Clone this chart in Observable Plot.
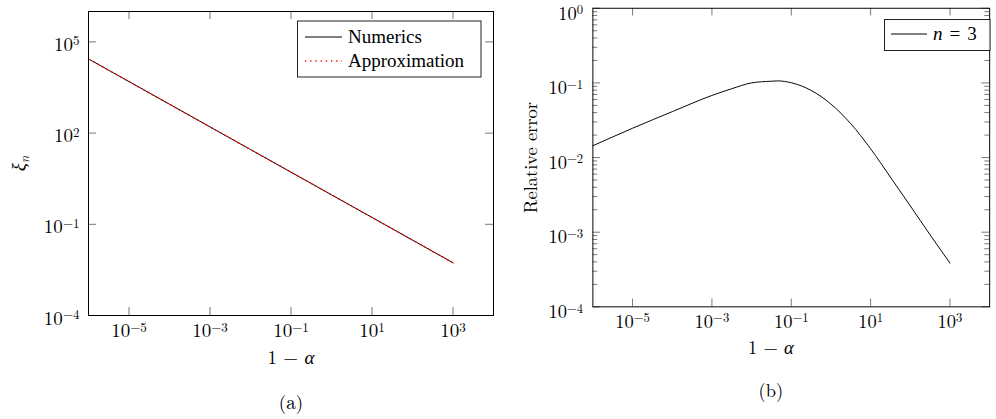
<!DOCTYPE html>
<html>
<head>
<meta charset="utf-8">
<script src="https://cdn.jsdelivr.net/npm/d3@7"></script>
<script src="https://cdn.jsdelivr.net/npm/@observablehq/plot@0.6"></script>
<style>
  body { margin: 0; background: #fff; }
  #root { position: relative; width: 996px; height: 419px; overflow: hidden; background: #fff;
          font-family: 'Latin Modern Roman', 'CMU Serif', 'Liberation Serif', serif; }
  .panel { position: absolute; top: 0; }
  #legends { position: absolute; left: 0; top: 0; pointer-events: none;
             font-family: 'Liberation Serif', serif; font-size: 19px; }
</style>
</head>
<body>
<div id="root">
  <div id="pa" class="panel" style="left:0px"></div>
  <div id="pb" class="panel" style="left:500px"></div>
  <svg id="legends" width="996" height="419">
    <rect x="297.5" y="21" width="183.5" height="56" fill="#fff" stroke="#222" stroke-width="1"></rect>
    <line x1="305" x2="342" y1="37" y2="37" stroke="#000" stroke-width="1"></line>
    <text x="348" y="42.5">Numerics</text>
    <line x1="305" x2="342" y1="61" y2="61" stroke="#f00" stroke-width="1.3" stroke-dasharray="1.3 3.9"></line>
    <text x="348" y="66.5">Approximation</text>
    <rect x="884.5" y="19.5" width="105.5" height="31" fill="#fff" stroke="#222" stroke-width="1"></rect>
    <line x1="891" x2="927" y1="34" y2="34" stroke="#000" stroke-width="1"></line>
    <text x="933" y="39.5"><tspan font-style="italic">n</tspan><tspan dx="7">=</tspan><tspan dx="7">3</tspan></text>
  </svg>
</div>
<script>
// ---------- data ----------
// Panel (a): xi_n versus 1 - alpha
const oneMinusAlpha = [1e-6, 1e-5, 1e-4, 1e-3, 1e-2, 1e-1, 1, 10, 100, 1000];
const xiNumerics    = [27500, 4955, 891, 160, 28.8, 5.19, 0.933, 0.168, 0.0302, 0.00543];
const xiApprox      = [27500, 4955, 891, 160, 28.8, 5.19, 0.933, 0.168, 0.0302, 0.00543];

// Panel (b): relative error, n = 3
const errX = [1e-6, 1e-5, 1e-4, 1e-3, 0.00316, 0.01, 0.0316, 0.0457, 0.1, 0.316, 1, 3.16, 10, 31.6, 100, 316, 1000];
const errY = [0.0144, 0.0247, 0.0412, 0.0679, 0.0836, 0.100, 0.1054, 0.1064, 0.1005, 0.0794, 0.052, 0.0284, 0.0131, 0.00545, 0.00225, 0.00092, 0.000385];

// ticks
const xMajor  = [1e-5, 1e-3, 1e-1, 10, 1000];
const yMajorA = [1e-4, 1e-1, 1e2, 1e5];
const yMajorB = [1e-4, 1e-3, 1e-2, 1e-1, 1];
const yMinorB = [1e-4, 1e-3, 1e-2, 1e-1].flatMap(p => [2,3,4,5,6,7,8,9].map(k => k * p));

const tableA = oneMinusAlpha.map((x, i) => ({x, num: xiNumerics[i], app: xiApprox[i]}));
const tableB = errX.map((x, i) => ({x, y: errY[i]}));

const FONT = "'Latin Modern Roman','CMU Serif','Liberation Serif',serif";
const TICK = "#777";
const fmt = d => "10^" + Math.round(Math.log10(d));
const lbl = {text: d => d, fontSize: 19, textAnchor: "middle", lineAnchor: "middle"};

function tickMarks(FW, FH, xs, ys, yMinor) {
  const m = [
    Plot.ruleX(xs, {x: d => d, stroke: TICK, insetTop: FH - 8}),
    Plot.ruleX(xs, {x: d => d, stroke: TICK, insetBottom: FH - 8}),
    Plot.ruleY(ys, {y: d => d, stroke: TICK, insetRight: FW - 8}),
    Plot.ruleY(ys, {y: d => d, stroke: TICK, insetLeft: FW - 8})
  ];
  if (yMinor) {
    m.push(Plot.ruleY(yMinor, {y: d => d, stroke: TICK, insetRight: FW - 5}));
    m.push(Plot.ruleY(yMinor, {y: d => d, stroke: TICK, insetLeft: FW - 5}));
  }
  return m;
}

function texify(svg) {
  svg.querySelectorAll("text").forEach(t => {
    const s = t.textContent;
    const m = /^10\^(-?\d+)$/.exec(s);
    if (m) {
      t.innerHTML = `10<tspan dy="-5.5" font-size="13">${m[1].replace("-", "\u2212")}</tspan>`;
    } else if (s === "1 \u2212 \u03b1") {
      t.innerHTML = `1 \u2212 <tspan font-style="italic">\u03b1</tspan>`;
    } else if (s === "\u03ben") {
      t.innerHTML = `<tspan font-style="italic">\u03be</tspan><tspan font-style="italic" font-size="13" dy="4">n</tspan>`;
    }
  });
}

// ---------- panel (a) ----------
{
  const W = 500, H = 419, mL = 88, mR = 7, mT = 11, mB = 104;
  const FW = W - mL - mR, FH = H - mT - mB;
  const chart = Plot.plot({
    width: W, height: H,
    marginLeft: mL, marginRight: mR, marginTop: mT, marginBottom: mB,
    style: {fontFamily: FONT, fontSize: "19px", background: "transparent", overflow: "visible"},
    x: {type: "log", domain: [1e-6, 1e4], axis: null},
    y: {type: "log", domain: [1e-4, 1e6], axis: null},
    marks: [
      Plot.line(tableA, {x: "x", y: "num", stroke: "#000", strokeWidth: 1}),
      Plot.line(tableA, {x: "x", y: "app", stroke: "#f00", strokeWidth: 1.3, strokeDasharray: "1.3 3.9"}),
      ...tickMarks(FW, FH, xMajor, yMajorA),
      Plot.frame({stroke: "#000", strokeWidth: 1}),
      Plot.axisX(xMajor, {anchor: "bottom", tickSize: 0, tickPadding: 8, tickFormat: fmt, fontSize: 19, label: null}),
      Plot.axisY(yMajorA, {anchor: "left", tickSize: 0, tickPadding: 9, dy: 3, tickFormat: fmt, fontSize: 19, label: null}),
      Plot.text(["1 \u2212 \u03b1"], {...lbl, frameAnchor: "bottom", dy: 42}),
      Plot.text(["(a)"], {...lbl, frameAnchor: "bottom", dy: 87}),
      Plot.text(["\u03ben"], {...lbl, frameAnchor: "left", dx: -70, rotate: -90})
    ]
  });
  texify(chart);
  document.getElementById("pa").appendChild(chart);
}

// ---------- panel (b) ----------
{
  const W = 510, H = 419, mL = 95, mR = 7, mT = 8, mB = 104;
  const FW = W - mL - mR, FH = H - mT - mB;
  const chart = Plot.plot({
    width: W, height: H,
    marginLeft: mL, marginRight: mR, marginTop: mT, marginBottom: mB,
    style: {fontFamily: FONT, fontSize: "19px", background: "transparent", overflow: "visible"},
    x: {type: "log", domain: [1e-6, 1e4], axis: null},
    y: {type: "log", domain: [1e-4, 1], axis: null},
    marks: [
      Plot.line(tableB, {x: "x", y: "y", stroke: "#000", strokeWidth: 1, curve: "monotone-x"}),
      ...tickMarks(FW, FH, xMajor, yMajorB, yMinorB),
      Plot.frame({stroke: "#000", strokeWidth: 1}),
      Plot.axisX(xMajor, {anchor: "bottom", tickSize: 0, tickPadding: 8, tickFormat: fmt, fontSize: 19, label: null}),
      Plot.axisY(yMajorB, {anchor: "left", tickSize: 0, tickPadding: 10, dy: 5.5, tickFormat: fmt, fontSize: 19, label: null}),
      Plot.text(["1 \u2212 \u03b1"], {...lbl, frameAnchor: "bottom", dy: 42, dx: -21}),
      Plot.text(["(b)"], {...lbl, frameAnchor: "bottom", dy: 87, dx: -21}),
      Plot.text(["Relative error"], {...lbl, frameAnchor: "left", dx: -64, rotate: -90})
    ]
  });
  texify(chart);
  document.getElementById("pb").appendChild(chart);
}
</script>
</body>
</html>
